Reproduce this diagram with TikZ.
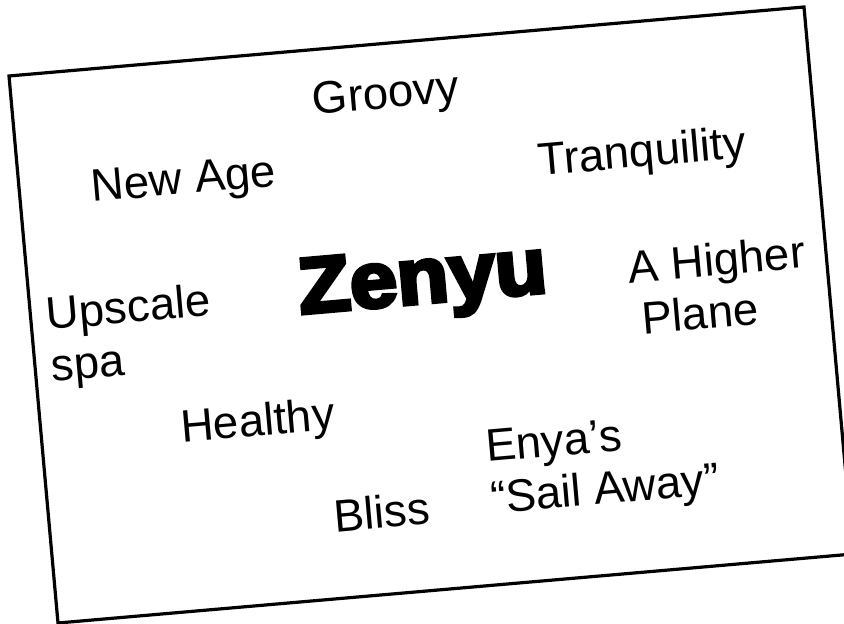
\documentclass[tikz,border=0pt]{standalone}
\usepackage{fontspec}
\setmainfont{Liberation Sans}
\newfontfamily\heavy[RawFeature={embolden=5}]{Liberation Sans Bold}
\begin{document}
\begin{tikzpicture}[x=1pt,y=1pt,
  word/.style={rotate=5,inner sep=0pt,font=\fontsize{45.5}{52}\selectfont,align=left},
  title/.style={rotate=5,inner sep=0pt,font=\heavy\fontsize{79}{84}\selectfont}]
\useasboundingbox (0,0) rectangle (844,624);
\fill[white] (0,0) rectangle (844,624);
\draw[line width=3.2pt,line join=miter] (9,548) -- (804,617) -- (853,70) -- (58,1) -- cycle;
\node[word] (groovy) at (386,527) {Groovy};
\node[word] (newage) at (184,441) {New Age};
\node[word] (tranq) at (642,469) {Tranquility};
\node[word] (higher) at (719,339) {A Higher\\ \hspace*{0.2em}Plane};
\node[title] (zenyu) at (423,340) {\scalebox{1.07}[1]{Zenyu}};
\node[word] (upscale) at (131,287) {Upscale\\spa};
\node[word] (healthy) at (258,200) {Healthy};
\node[word] (enya) at (603,157) {Enya’s\\“Sail Away”};
\node[word] (bliss) at (382,112) {Bliss};
\end{tikzpicture}
\end{document}
